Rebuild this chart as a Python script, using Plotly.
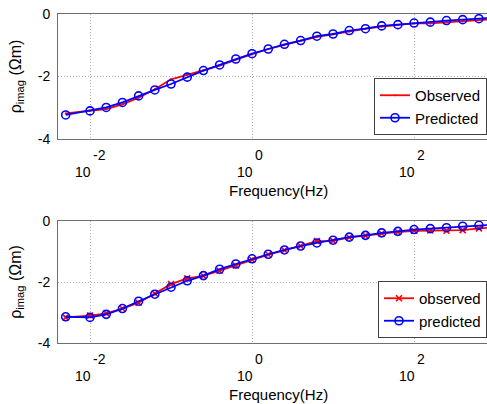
import plotly.graph_objects as go

# Frequencies (Hz)
freq = [0.00501, 0.01, 0.01585, 0.02512, 0.03981, 0.0631, 0.1, 0.1585, 0.2512, 0.3981,
        0.631, 1.0, 1.585, 2.512, 3.981, 6.31, 10.0, 15.85, 25.12, 39.81,
        63.1, 100.0, 158.5, 251.2, 398.1, 631.0, 1000.0]

top_observed = [-3.18, -3.10, -3.04, -2.89, -2.68, -2.41, -2.09, -1.95, -1.80, -1.65,
                -1.46, -1.29, -1.12, -0.99, -0.85, -0.73, -0.65, -0.55, -0.47, -0.40,
                -0.34, -0.30, -0.30, -0.26, -0.23, -0.20, -0.16]
top_predicted = [-3.23, -3.10, -2.99, -2.83, -2.62, -2.43, -2.24, -2.02, -1.81, -1.63,
                 -1.44, -1.27, -1.12, -0.97, -0.85, -0.71, -0.64, -0.53, -0.47, -0.38,
                 -0.34, -0.29, -0.26, -0.21, -0.18, -0.15, -0.12]

bot_observed = [-3.16, -3.10, -3.03, -2.87, -2.68, -2.38, -2.07, -1.88, -1.80, -1.63,
                -1.46, -1.27, -1.10, -0.96, -0.82, -0.66, -0.65, -0.54, -0.48, -0.41,
                -0.36, -0.32, -0.31, -0.32, -0.30, -0.24, -0.21]
bot_predicted = [-3.14, -3.16, -3.06, -2.87, -2.63, -2.40, -2.17, -1.96, -1.79, -1.58,
                 -1.41, -1.24, -1.09, -0.95, -0.82, -0.72, -0.63, -0.53, -0.47, -0.39,
                 -0.34, -0.28, -0.25, -0.22, -0.17, -0.14, -0.12]

x_tick_vals = [0.01, 1, 100]
x_tick_exp = ["-2", "0", "2"]
x_tick_pos = [-2, 0, 2]
x_tick_base = "10"
y_tick_vals = [0, -2, -4]
y_tick_text = ["0", "-2", "-4"]

FONT = "Liberation Sans, Arial, Helvetica, sans-serif"
RED = "#ff0000"
BLUE = "#0000ff"
AXC = "#6e6e6e"
GRID = "#b0b0b0"

fig = go.Figure()
fig.add_trace(go.Scatter(x=freq, y=top_observed, name="Observed", mode="lines+markers",
                         line=dict(color=RED, width=1.8),
                         marker=dict(symbol="circle", size=2, color=RED),
                         xaxis="x", yaxis="y", legend="legend"))
fig.add_trace(go.Scatter(x=freq, y=top_predicted, name="Predicted", mode="lines+markers",
                         line=dict(color=BLUE, width=1.8),
                         marker=dict(symbol="circle-open", size=8, color=BLUE, line=dict(width=1.6)),
                         xaxis="x", yaxis="y", legend="legend"))
fig.add_trace(go.Scatter(x=freq, y=bot_observed, name="observed", mode="lines+markers",
                         line=dict(color=RED, width=1.8),
                         marker=dict(symbol="x-thin", size=6, color=RED, line=dict(width=1.6, color=RED)),
                         xaxis="x2", yaxis="y2", legend="legend2"))
fig.add_trace(go.Scatter(x=freq, y=bot_predicted, name="predicted", mode="lines+markers",
                         line=dict(color=BLUE, width=1.8),
                         marker=dict(symbol="circle-open", size=8, color=BLUE, line=dict(width=1.6)),
                         xaxis="x2", yaxis="y2", legend="legend2"))

H = 329.0
top_dom = [204 / H, 1.0]
bot_dom = [0.0, 122 / H]

xaxis_common = dict(type="log", range=[-2.395, 2.9], tickvals=x_tick_vals, showticklabels=False,
                    showgrid=True, gridcolor=GRID, griddash="1px,2px", gridwidth=1,
                    showline=True, linecolor=AXC, linewidth=1, mirror=True, zeroline=False, ticks="")
yaxis_common = dict(range=[-4, 0], tickvals=y_tick_vals, ticktext=y_tick_text,
                    tickfont=dict(size=14, color="black", family=FONT),
                    showgrid=True, gridcolor=GRID, griddash="1px,2px", gridwidth=1,
                    showline=True, linecolor=AXC, linewidth=1, mirror=False, zeroline=False,
                    ticks="", ticklabelstandoff=4,
                    title=dict(text="ρ<sub>imag</sub> (Ωm)",
                               font=dict(size=16, color="black", family=FONT), standoff=12))

fig.update_layout(
    width=487, height=404,
    margin=dict(l=58, r=0, t=14, b=61),
    paper_bgcolor="white", plot_bgcolor="white",
    font=dict(family=FONT, size=14, color="black"),
    xaxis=dict(domain=[0, 1], anchor="y", **xaxis_common),
    yaxis=dict(domain=top_dom, anchor="x", **yaxis_common),
    xaxis2=dict(domain=[0, 1], anchor="y2", **xaxis_common),
    yaxis2=dict(domain=bot_dom, anchor="x2", **yaxis_common),
    legend=dict(x=1, xanchor="right", y=top_dom[0] + 4 / H, yanchor="bottom",
                bordercolor="#404040", borderwidth=1, bgcolor="white",
                font=dict(size=15, family=FONT), itemwidth=30, tracegroupgap=0),
    legend2=dict(x=1, xanchor="right", y=bot_dom[0] + 5 / H, yanchor="bottom",
                 bordercolor="#404040", borderwidth=1, bgcolor="white",
                 font=dict(size=15, family=FONT), itemwidth=30, tracegroupgap=0),
    showlegend=True,
)

annotations = []
for xa, ya in (("x", "y domain"), ("x2", "y2 domain")):
    for pos, e in zip(x_tick_pos, x_tick_exp):
        annotations.append(dict(x=pos, y=0, xref=xa, yref=ya, text=x_tick_base, showarrow=False,
                                xanchor="right", yanchor="middle", xshift=3, yshift=-33,
                                font=dict(size=14, family=FONT, color="black")))
        annotations.append(dict(x=pos, y=0, xref=xa, yref=ya, text=e, showarrow=False,
                                xanchor="left", yanchor="middle", xshift=1, yshift=-16,
                                font=dict(size=14, family=FONT, color="black")))
    annotations.append(dict(x=0.513, y=0, xref="paper", yref=ya, text="Frequency(Hz)", showarrow=False,
                            xanchor="center", yanchor="middle", yshift=-51,
                            font=dict(size=15, family=FONT, color="black")))
fig.update_layout(annotations=annotations)

fig.write_html("out.html")
